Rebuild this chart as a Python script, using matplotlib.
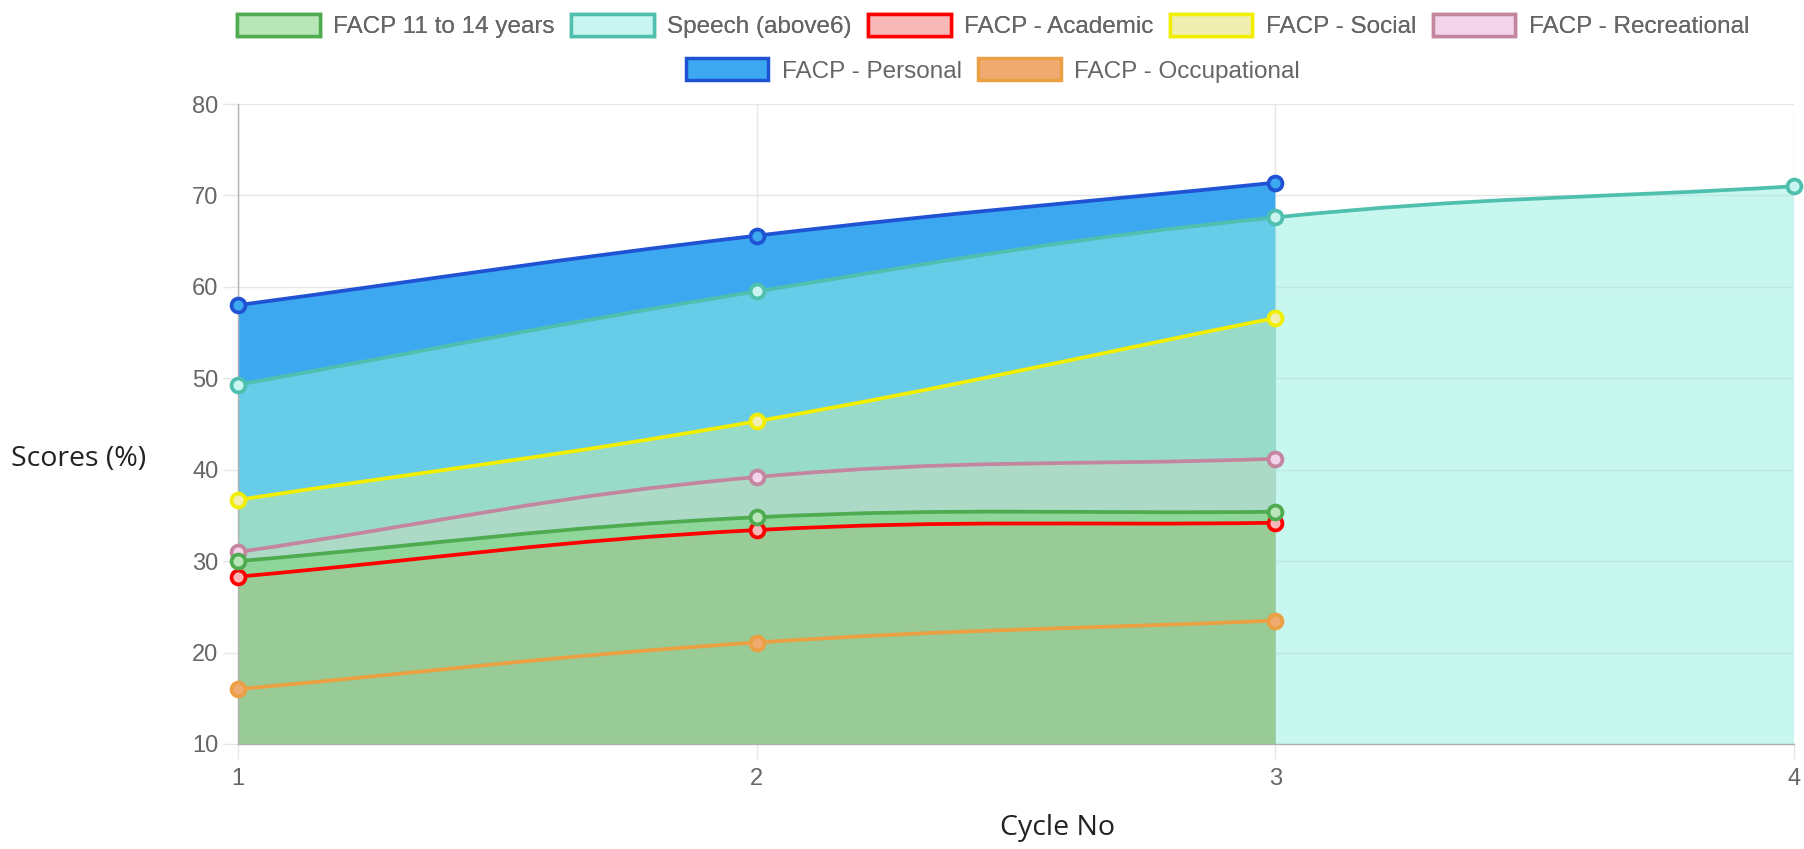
import matplotlib
matplotlib.use('Agg')
import matplotlib.pyplot as plt
import numpy as np
from matplotlib.path import Path
from matplotlib.patches import PathPatch, Patch

# Data
cycles = [1, 2, 3, 4]
facp_11_14 = [30.0, 34.8, 35.4]
speech = [49.3, 59.5, 67.6, 71.0]
academic = [28.3, 33.4, 34.2]
social = [36.7, 45.3, 56.6]
recreational = [31.0, 39.2, 41.2]
personal = [58.0, 65.6, 71.4]
occupational = [16.0, 21.1, 23.5]

y_ticks = [10, 20, 30, 40, 50, 60, 70, 80]

# (label, values, line colour, legend/point fill, area fill, area alpha)
series = [
    ('FACP 11 to 14 years', facp_11_14, '#4fab50', '#b8e6b8', '#8ed69a', 1.0),
    ('Speech (above6)', speech, '#4fbfae', '#c8f5f0', '#93f0e1', 0.5),
    ('FACP - Academic', academic, '#ff0000', '#f8b8b8', '#98cb95', 1.0),
    ('FACP - Social', social, '#f2ee00', '#f0eeb0', '#98dbc8', 1.0),
    ('FACP - Recreational', recreational, '#c4869e', '#f3d3ea', '#acdac6', 1.0),
    ('FACP - Personal', personal, '#2052d4', '#3ca8f0', '#3ca8f0', 1.0),
    ('FACP - Occupational', occupational, '#eba043', '#f0aa70', None, 1.0),
]

W, H = 1804, 849
fig = plt.figure(figsize=(W / 100, H / 100), dpi=100)
ax = fig.add_axes([238 / W, 1 - 744 / H, (1794 - 238) / W, (744 - 104) / H])
ax.set_xlim(1, 4)
ax.set_ylim(10, 80)


def spline(xs, ys, tension=0.4):
    """ Chart.js style bezier through the points, in pixel space. """
    pts = ax.transData.transform(np.column_stack([xs, ys]))
    n = len(pts)
    cps = []
    for i in range(n):
        prev = pts[max(i - 1, 0)]
        cur = pts[i]
        nxt = pts[min(i + 1, n - 1)]
        d01 = np.hypot(*(cur - prev))
        d12 = np.hypot(*(nxt - cur))
        tot = d01 + d12
        fa = tension * d01 / tot if tot else 0
        fb = tension * d12 / tot if tot else 0
        cps.append((cur - fa * (nxt - prev), cur + fb * (nxt - prev)))
    verts = [pts[0]]
    codes = [Path.MOVETO]
    for i in range(n - 1):
        verts += [cps[i][1], cps[i + 1][0], pts[i + 1]]
        codes += [Path.CURVE4] * 3
    verts = ax.transData.inverted().transform(np.array(verts))
    return list(map(tuple, verts)), codes


# Fills: top series first so lower ones sit over them
order = sorted(range(len(series)), key=lambda i: -max(series[i][1]))
for i in order:
    label, vals, lc, pf, af, alpha = series[i]
    if af is None:
        continue
    xs = cycles[:len(vals)]
    verts, codes = spline(xs, vals)
    verts += [(xs[-1], 10), (xs[0], 10), (xs[0], vals[0])]
    codes += [Path.LINETO, Path.LINETO, Path.CLOSEPOLY]
    ax.add_patch(PathPatch(Path(verts, codes), facecolor=af, alpha=alpha,
                           edgecolor='none', zorder=1))

# Lines and points, first dataset drawn last
for i in reversed(range(len(series))):
    label, vals, lc, pf, af, alpha = series[i]
    xs = cycles[:len(vals)]
    verts, codes = spline(xs, vals)
    ax.add_patch(PathPatch(Path(verts, codes), facecolor='none', edgecolor=lc,
                           lw=2.7, zorder=3 + (len(series) - i) * 0.1,
                           capstyle='round', joinstyle='round'))
    ax.plot(xs, vals, 'o', ms=10, mfc=pf, mec=lc, mew=2.7, clip_on=False,
            zorder=5 + (len(series) - i) * 0.1)

ax.set_axisbelow(True)
ax.grid(True, color='#e6e6e6', lw=1)
ax.set_xticks(cycles)
ax.set_yticks(y_ticks)
ax.tick_params(axis='both', length=11, width=1, color='#e6e6e6',
               labelcolor='#666666', labelsize=17)
ax.tick_params(axis='y', pad=3)
ax.tick_params(axis='x', pad=6)
for lab in ax.get_xticklabels() + ax.get_yticklabels():
    lab.set_family('Liberation Sans')
for side in ['top', 'right']:
    ax.spines[side].set_visible(False)
for side in ['left', 'bottom']:
    ax.spines[side].set_color('#b0b0b0')
    ax.spines[side].set_linewidth(1)
    ax.spines[side].set_zorder(4)

fig.text(11 / W, 1 - 459 / H, 'Scores (%)', ha='left', va='center',
         fontsize=20.5, family='Open Sans', color='#222222')
fig.text(1058 / W, 1 - 828 / H, 'Cycle No', ha='center', va='center',
         fontsize=20.5, family='Open Sans', color='#222222')

# Legend, two centred rows
handles = [Patch(facecolor=s[3], edgecolor=s[2], lw=2.5, label=s[0]) for s in series]
leg_kw = dict(frameon=False, loc='center', handlelength=3.4, handleheight=1.0,
              handletextpad=0.55, columnspacing=0.68, borderpad=0,
              prop={'family': 'Liberation Sans', 'size': 17.5}, labelcolor='#666666')
leg1 = fig.legend(handles=handles[:5], ncol=5, bbox_to_anchor=(993 / W, 1 - 26 / H), **leg_kw)
fig.legend(handles=handles[5:], ncol=2, bbox_to_anchor=(993 / W, 1 - 70.5 / H), **leg_kw)
fig.add_artist(leg1)

plt.savefig('out.png', dpi=100)
